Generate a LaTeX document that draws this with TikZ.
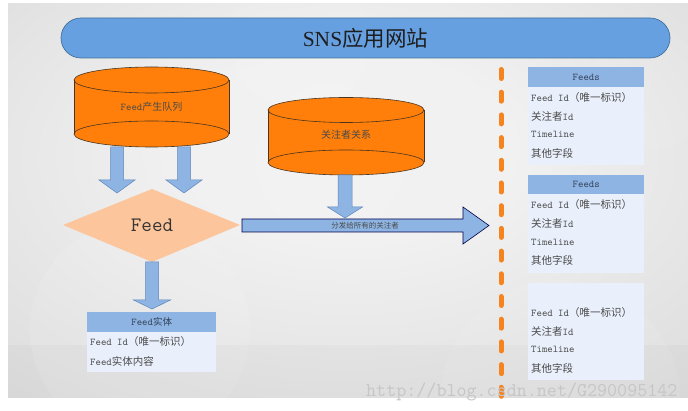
\documentclass[tikz,border=0pt]{standalone}
\usepackage{fontspec}
\newfontfamily\cjk{Noto Sans CJK SC}
\newfontfamily\mono{Latin Modern Mono}
\newfontfamily\serifL{Liberation Serif}
\usetikzlibrary{calc}
\definecolor{bgin}{HTML}{F1F1F1}
\definecolor{bgout}{HTML}{D3D3D3}
\definecolor{banner}{HTML}{66A0E0}
\definecolor{bannerline}{HTML}{41719C}
\definecolor{cylfill}{HTML}{FF7F0A}
\definecolor{cylline}{HTML}{4A3520}
\definecolor{arrowfill}{HTML}{8DB4E2}
\definecolor{arrowline}{HTML}{5F86BA}
\definecolor{diamondfill}{HTML}{FCC59C}
\definecolor{hdrblue}{HTML}{8DB4E2}
\definecolor{bodyblue}{HTML}{E9F0FB}
\definecolor{dashorange}{HTML}{F5841F}
\definecolor{txt}{HTML}{4A4A4A}
\definecolor{hdrtxt}{HTML}{34425A}
\definecolor{wmark}{HTML}{C6C6C6}
\pgfdeclareradialshading{bgsh}{\pgfpoint{0bp}{8bp}}{color(0bp)=(bgin); color(12bp)=(bgin); color(50bp)=(bgout); color(75bp)=(bgout)}
\newcommand\blockdown[6][]{%
  \filldraw[#1] let \p1=(#2), \p2=(#3) in
   (\x1-#4,\y1) -- (\x1+#4,\y1) -- (\x1+#4,\y2+#6) -- (\x1+#5,\y2+#6) -- (\x1,\y2)
   -- (\x1-#5,\y2+#6) -- (\x1-#4,\y2+#6) -- cycle;}
\newcommand\blockright[6][]{%
  \filldraw[#1] let \p1=(#2), \p2=(#3) in
   (\x1,\y1+#4) -- (\x2-#6,\y1+#4) -- (\x2-#6,\y1+#5) -- (\x2,\y1) -- (\x2-#6,\y1-#5)
   -- (\x2-#6,\y1-#4) -- (\x1,\y1-#4) -- cycle;}
\newcommand\drawcyl[5]{% cx, ytop, ybot, rx, ry
  \fill[cylfill] (#1-#4,#2) rectangle (#1+#4,#3);
  \fill[cylfill] (#1,#2) ellipse [x radius=#4, y radius=#5];
  \fill[cylfill] (#1,#3) ellipse [x radius=#4, y radius=#5];
  \draw[cylline, line width=0.6pt] (#1,#2) ellipse [x radius=#4, y radius=#5];
  \draw[cylline, line width=0.6pt] (#1,#3) ellipse [x radius=#4, y radius=#5];
  \draw[cylline, line width=0.6pt] (#1-#4,#2) -- (#1-#4,#3) (#1+#4,#2) -- (#1+#4,#3);}
\newcommand\latf{\mono\fontsize{10.3}{11}\selectfont}
\newcommand\cjkf{\cjk\fontsize{10.5}{11}\selectfont}
\begin{document}
\begin{tikzpicture}[x=1pt,y=-1pt,
  smallarrow/.style={fill=arrowfill, draw=arrowline, line width=0.5pt},
  bigarrow/.style={fill=arrowfill, draw=black!70!blue, line width=0.6pt},
  tabbody/.style={fill=bodyblue, draw=none, inner sep=0pt, anchor=north west, minimum width=116pt},
  tabhead/.style={fill=hdrblue, draw=none, inner sep=0pt, anchor=north west, minimum width=116pt},
  rowtext/.style={anchor=west, inner sep=0pt, text=txt},
  hdrtext/.style={inner sep=0pt, text=hdrtxt},
]
\useasboundingbox (0,0) rectangle (688,411);
\fill[white] (0,0) rectangle (688,411);
\shade[shading=bgsh] (8,4) rectangle (688,398);
\begin{scope}
\clip (8,4) rectangle (688,398);
\fill[white, opacity=0.10] (140,330) circle (110);
\fill[white, opacity=0.10] (330,160) circle (75);
\fill[white, opacity=0.08] (300,40) circle (70);
\fill[white, opacity=0.08] (560,400) circle (120);
\fill[white, opacity=0.07] (650,90) circle (60);
\fill[black, opacity=0.02] (8,345) rectangle (688,398);
\end{scope}

% banner
\node[fill=banner, draw=bannerline, line width=0.7pt, rounded corners=20pt,
      minimum width=609pt, minimum height=40pt, inner sep=0pt] (banner) at (365.5,38)
  {\fontsize{21.5}{24}\selectfont\color[HTML]{1E1E1E}{\serifL SNS}{\cjk 应用网站}};

% cylinders
\drawcyl{151.5}{80}{134}{77.5}{13}
\node[inner sep=0pt, text=txt] (cyl1) at (151.5,107)
  {{\latf Feed}{\cjk\fontsize{10}{11}\selectfont 产生队列}};
\drawcyl{346}{110}{162.5}{78}{12.5}
\node[inner sep=0pt, text=txt] (cyl2) at (346,135)
  {\cjk\fontsize{10}{11}\selectfont 关注者关系};

% diamond
\fill[diamondfill] (63,225) -- (152,189) -- (240,225) -- (152,262) -- cycle;
\node[inner sep=0pt, text=black!80] (feed) at (152,225)
  {\mono\fontsize{20.5}{22}\selectfont Feed};

% named points for the block arrows
\coordinate (c1a) at (117,147);   \coordinate (d1a) at (117,193);
\coordinate (c1b) at (184,147);   \coordinate (d1b) at (184,193);
\coordinate (dbot) at (152,262);  \coordinate (entop) at (152,309);
\coordinate (c2bot) at (345,175); \coordinate (c2tip) at (345,218);
\coordinate (dright) at (242,225.5); \coordinate (dist) at (489,225.5);

\blockdown[smallarrow]{c1a}{d1a}{6.5pt}{18pt}{13pt}
\blockdown[smallarrow]{c1b}{d1b}{6.5pt}{18pt}{13pt}
\blockdown[smallarrow]{dbot}{entop}{6.5pt}{18.5pt}{9pt}
\blockright[bigarrow]{dright}{dist}{6.5pt}{18.5pt}{26pt}
\blockdown[smallarrow]{c2bot}{c2tip}{7pt}{17.5pt}{11pt}
\node[inner sep=0pt, text=txt] (distlbl) at (365,225.5)
  {\cjk\fontsize{7.5}{8}\selectfont 分发给所有的关注者};

% dashed separator
\coordinate (sepT) at (501,69.5);
\coordinate (sepB) at (501,398);
\draw[dashorange, line width=5pt, line cap=round, dash pattern=on 9pt off 13.7pt] (sepT) -- (sepB);

% Feed entity table
\node[tabbody, minimum width=129pt, minimum height=60pt] (ent) at (87,312) {};
\node[tabhead, minimum width=129pt, minimum height=20pt] (enth) at (87,312) {};
\node[hdrtext] at (enth.center)
  {{\latf Feed}{\cjk\fontsize{9.5}{10}\selectfont 实体}};
\node[rowtext] (e1) at (90,342) {{\latf Feed Id}{\cjkf （唯一标识）}};
\node[rowtext] (e2) at (90,361) {{\latf Feed}{\cjkf 实体内容}};

% Feeds tables
\node[tabbody, minimum height=98pt] (f1) at (528,67) {};
\node[tabhead, minimum height=20pt] (f1h) at (528,67) {};
\node[hdrtext] at (f1h.center) {\latf Feeds};
\node[rowtext] (f1r1) at (531,98) {{\latf Feed Id}{\cjkf （唯一标识）}};
\node[rowtext] (f1r2) at (531,116) {{\cjkf 关注者}{\latf Id}};
\node[rowtext] (f1r3) at (531,134) {\latf Timeline};
\node[rowtext] (f1r4) at (531,153) {\cjkf 其他字段};

\node[tabbody, minimum height=98pt] (f2) at (528,175) {};
\node[tabhead, minimum height=19pt] (f2h) at (528,175) {};
\node[hdrtext] at (f2h.center) {\latf Feeds};
\node[rowtext] (f2r1) at (531,205) {{\latf Feed Id}{\cjkf （唯一标识）}};
\node[rowtext] (f2r2) at (531,223) {{\cjkf 关注者}{\latf Id}};
\node[rowtext] (f2r3) at (531,242) {\latf Timeline};
\node[rowtext] (f2r4) at (531,260) {\cjkf 其他字段};

\node[tabbody, minimum height=97pt] (f3) at (528,283) {};
\node[rowtext] (f3r1) at (531,313) {{\latf Feed Id}{\cjkf （唯一标识）}};
\node[rowtext] (f3r2) at (531,331) {{\cjkf 关注者}{\latf Id}};
\node[rowtext] (f3r3) at (531,349) {\latf Timeline};
\node[rowtext] (f3r4) at (531,368) {\cjkf 其他字段};

% watermark
\node[anchor=base west, inner sep=0pt, text=wmark] (wm) at (366,396)
  {\mono\fontsize{19.5}{20}\selectfont http://blog.csdn.net/G290095142};
\end{tikzpicture}
\end{document}
